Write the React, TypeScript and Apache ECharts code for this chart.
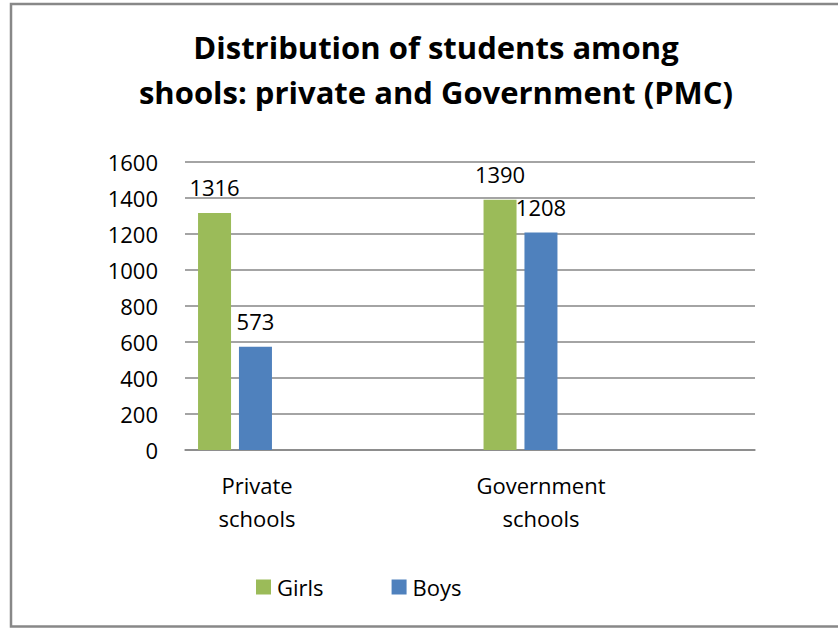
import React, { useEffect, useRef } from "react";
import * as echarts from "echarts";

const categories = ["Private\nschools", "Government\nschools"];
const girls = [1316, 1390];
const boys = [573, 1208];
const yTicks = { min: 0, max: 1600, interval: 200 };
const titleLines = ["Distribution of students among", "shools: private and Government (PMC)"];

const FONT = "Open Sans";
const GRID_TOP = 162;
const GRID_BOTTOM = 629 - 450;

export default function App() {
  const ref = useRef<HTMLDivElement>(null);
  useEffect(() => {
    document.body.style.margin = "0";
    const chart = echarts.init(ref.current!, null, { renderer: "svg" });
    const hiddenY = (gi: number) => ({
      type: "value",
      gridIndex: gi,
      min: yTicks.min,
      max: yTicks.max,
      interval: yTicks.interval,
      show: false,
    });
    const barLabel = {
      show: true,
      position: "top",
      distance: 15,
      fontFamily: FONT,
      fontSize: 22,
      color: "#000",
    };
    chart.setOption({
      animation: false,
      backgroundColor: "#ffffff",
      textStyle: { fontFamily: FONT },
      legend: {
        data: ["Girls", "Boys"],
        left: 251,
        top: 571,
        itemWidth: 15,
        itemHeight: 15,
        itemGap: 68,
        icon: "rect",
        textStyle: { fontFamily: FONT, fontSize: 22, color: "#000", padding: [0, 0, 0, 1] },
      },
      grid: [
        { left: 185, right: 83, top: GRID_TOP, bottom: GRID_BOTTOM },
        { left: 92.25, right: 174.75, top: GRID_TOP, bottom: GRID_BOTTOM },
        { left: 115, right: 155, top: GRID_TOP, bottom: GRID_BOTTOM },
      ],
      xAxis: [
        {
          type: "category",
          gridIndex: 0,
          data: categories,
          axisLine: { show: true, lineStyle: { color: "#868686", width: 1.5 } },
          axisTick: { show: false },
          axisLabel: { show: false },
        },
        {
          type: "category",
          gridIndex: 1,
          data: categories,
          show: false,
        },
        {
          type: "category",
          gridIndex: 2,
          data: categories,
          axisLine: { show: false },
          axisTick: { show: false },
          axisLabel: {
            show: true,
            margin: 18,
            fontFamily: FONT,
            fontSize: 22,
            lineHeight: 33,
            color: "#000",
          },
        },
      ],
      yAxis: [
        {
          type: "value",
          gridIndex: 0,
          min: yTicks.min,
          max: yTicks.max,
          interval: yTicks.interval,
          axisLine: { show: false },
          axisTick: { show: false },
          axisLabel: {
            margin: 27,
            fontFamily: FONT,
            fontSize: 22,
            color: "#000",
            formatter: (v: number) => String(v),
          },
          splitLine: { show: true, lineStyle: { color: "#868686", width: 1.5 } },
        },
        hiddenY(1),
        hiddenY(2),
      ],
      series: [
        {
          name: "Girls",
          type: "bar",
          xAxisIndex: 1,
          yAxisIndex: 1,
          data: girls,
          barWidth: 33,
          barGap: "24%",
          itemStyle: { color: "#9BBB59" },
          label: barLabel,
        },
        {
          name: "Boys",
          type: "bar",
          xAxisIndex: 1,
          yAxisIndex: 1,
          data: boys,
          barWidth: 33,
          barGap: "24%",
          itemStyle: { color: "#4F81BD" },
          label: barLabel,
        },
      ],
      graphic: [
        {
          type: "rect",
          shape: { x: 11, y: 4, width: 860, height: 622.5 },
          style: { fill: "none", stroke: "#888888", lineWidth: 2.5 },
          silent: true,
        },
        ...titleLines.map((t, i) => ({
          type: "text",
          x: 436,
          y: 47 + i * 45,
          silent: true,
          style: {
            text: t,
            fontFamily: FONT,
            fontWeight: "bold",
            fontSize: 31,
            fill: "#000",
            align: "center",
            verticalAlign: "middle",
          },
        })),
      ],
    });
    return () => chart.dispose();
  }, []);
  return <div ref={ref} style={{ width: 838, height: 629 }} />;
}
